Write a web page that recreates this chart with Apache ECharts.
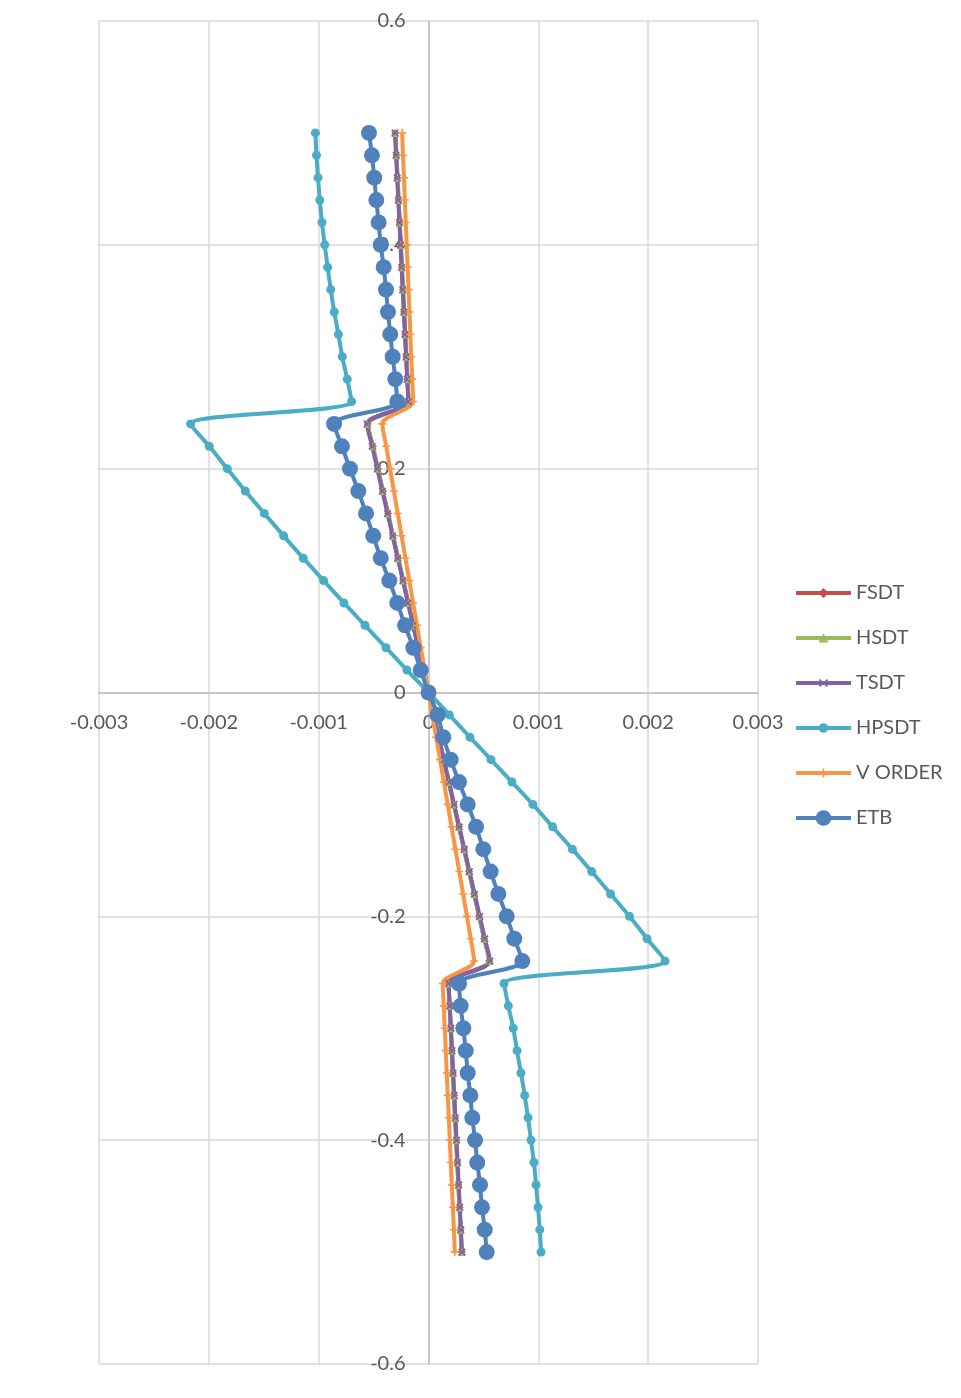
<!DOCTYPE html>
<html><head><meta charset="utf-8">
<script src="https://cdn.jsdelivr.net/npm/echarts@6/dist/echarts.min.js"></script>
<style>html,body{margin:0;padding:0;background:#fff}#c{width:961px;height:1398px}</style>
</head><body><div id="c"></div><script>
const z = [0.5,0.48,0.46,0.44,0.42,0.4,0.38,0.36,0.34,0.32,0.3,0.28,0.26,
  0.24,0.22,0.2,0.18,0.16,0.14,0.12,0.1,0.08,0.06,0.04,0.02,0,
  -0.02,-0.04,-0.06,-0.08,-0.1,-0.12,-0.14,-0.16,-0.18,-0.2,-0.22,-0.24,
  -0.26,-0.28,-0.3,-0.32,-0.34,-0.36,-0.38,-0.4,-0.42,-0.44,-0.46,-0.48,-0.5];

const fsdt = [-0.000302,-0.000292,-0.000282,-0.000272,-0.000262,-0.000252,-0.000242,-0.000232,-0.000222,-0.000212,-0.000202,-0.000192,-0.000182,
  -0.000553,-0.000507,-0.000461,-0.000415,-0.000369,-0.000323,-0.000277,-0.000230,-0.000184,-0.000138,-0.000092,-0.000046,0,
  0.000046,0.000092,0.000138,0.000184,0.000230,0.000277,0.000323,0.000369,0.000415,0.000461,0.000507,0.000553,
  0.000182,0.000192,0.000202,0.000212,0.000222,0.000232,0.000242,0.000252,0.000262,0.000272,0.000282,0.000292,0.000302];

const hsdt = [-0.000302,-0.000292,-0.000282,-0.000272,-0.000262,-0.000252,-0.000242,-0.000232,-0.000222,-0.000212,-0.000202,-0.000192,-0.000182,
  -0.000553,-0.000507,-0.000461,-0.000415,-0.000369,-0.000323,-0.000277,-0.000230,-0.000184,-0.000138,-0.000092,-0.000046,0,
  0.000046,0.000092,0.000138,0.000184,0.000230,0.000277,0.000323,0.000369,0.000415,0.000461,0.000507,0.000553,
  0.000182,0.000192,0.000202,0.000212,0.000222,0.000232,0.000242,0.000252,0.000262,0.000272,0.000282,0.000292,0.000302];

const tsdt = [-0.000305,-0.000295,-0.000285,-0.000275,-0.000265,-0.000255,-0.000245,-0.000235,-0.000224,-0.000214,-0.000204,-0.000194,-0.000184,
  -0.000560,-0.000513,-0.000467,-0.000420,-0.000373,-0.000327,-0.000280,-0.000233,-0.000187,-0.000140,-0.000093,-0.000047,0,
  0.000047,0.000093,0.000140,0.000187,0.000233,0.000280,0.000327,0.000373,0.000420,0.000467,0.000513,0.000560,
  0.000184,0.000194,0.000204,0.000214,0.000224,0.000235,0.000245,0.000255,0.000265,0.000275,0.000285,0.000295,0.000305];

const hpsdt = [-0.001030,-0.001020,-0.001006,-0.000990,-0.000970,-0.000945,-0.000918,-0.000890,-0.000858,-0.000820,-0.000785,-0.000740,-0.000700,
  -0.002166,-0.001996,-0.001832,-0.001668,-0.001495,-0.001319,-0.001140,-0.000955,-0.000770,-0.000578,-0.000387,-0.000196,0,
  0.000190,0.000378,0.000569,0.000760,0.000950,0.001130,0.001310,0.001486,0.001658,0.001830,0.001990,0.002154,
  0.000688,0.000727,0.000772,0.000806,0.000842,0.000876,0.000906,0.000933,0.000960,0.000979,0.000997,0.001013,0.001025];

const vorder = [-0.000240,-0.000232,-0.000223,-0.000215,-0.000207,-0.000198,-0.000190,-0.000182,-0.000173,-0.000165,-0.000157,-0.000148,-0.000140,
  -0.000420,-0.000385,-0.000350,-0.000315,-0.000280,-0.000245,-0.000210,-0.000175,-0.000140,-0.000105,-0.000070,-0.000035,0,
  0.000035,0.000070,0.000105,0.000140,0.000175,0.000210,0.000245,0.000280,0.000315,0.000350,0.000385,0.000415,
  0.000130,0.000139,0.000148,0.000157,0.000166,0.000175,0.000185,0.000194,0.000203,0.000212,0.000222,0.000231,0.000240];

const etb = [-0.000542,-0.000515,-0.000494,-0.000475,-0.000454,-0.000435,-0.000408,-0.000387,-0.000369,-0.000348,-0.000326,-0.000302,-0.000284,
  -0.000860,-0.000788,-0.000715,-0.000639,-0.000569,-0.000503,-0.000435,-0.000357,-0.000284,-0.000214,-0.000138,-0.000071,0,
  0.000084,0.000135,0.000202,0.000278,0.000357,0.000433,0.000499,0.000566,0.000636,0.000712,0.000781,0.000854,
  0.000278,0.000293,0.000317,0.000339,0.000357,0.000381,0.000399,0.000424,0.000444,0.000469,0.000487,0.000512,0.000530];

const xTickLabels = ['-0.003','-0.002','-0.001','0','0.001','0.002','0.003'];
const yTickLabels = ['-0.6','-0.4','-0.2','0','0.2','0.4','0.6'];
const seriesNames = ['FSDT','HSDT','TSDT','HPSDT','V ORDER','ETB'];

const FONT = 'Lato';
const GRID = { left: 99, right: 203, top: 21, bottom: 34 };
const W = 961, H = 1398;
const plotW = W - GRID.left - GRID.right, plotH = H - GRID.top - GRID.bottom;
// axes cross at zero: shift the axes from the grid edges to the zero lines
const xOffset = -plotH * (0 - (-0.6)) / 1.2;
const yOffset = -plotW * (0 - (-0.003)) / 0.006;

const plusPath = 'path://M4,0h2v4h4v2h-4v4h-2v-4h-4v-2h4z';

// legend icons (55 x 20 box): line bar + marker
const LW = 55, LH = 20;
const bar = 'M0,0M55,20M0,8H55V12H0Z';
function circ(r) { return 'M' + (27.5 - r) + ',10a' + r + ',' + r + ' 0 1,1 ' + (2 * r) + ',0a' + r + ',' + r + ' 0 1,1 ' + (-2 * r) + ',0Z'; }
const legendIcons = {
  'FSDT': 'path://' + bar + 'M27.5,5L32.5,10L27.5,15L22.5,10Z',
  'HSDT': 'path://' + bar + 'M27.5,5.5L32.5,14.5L22.5,14.5Z',
  'TSDT': 'path://' + bar + 'M24,6L27.5,9.2L31,6L32.2,7.2L28.8,10L32.2,12.8L31,14L27.5,10.8L24,14L22.8,12.8L26.2,10L22.8,7.2Z',
  'HPSDT': 'path://' + bar + circ(4.8),
  'V ORDER': 'path://' + bar + 'M26.7,5.5H28.3V14.5H26.7Z',
  'ETB': 'path://' + bar + circ(7.8)
};

function mk(name, arr, color, symbol, size, rotate) {
  return {
    name: name, type: 'line',
    data: z.map((zz, i) => [arr[i], zz]),
    smooth: 0.3,
    symbol: symbol, symbolSize: size, symbolRotate: rotate || 0,
    showSymbol: true,
    lineStyle: { color: color, width: 4 },
    itemStyle: { color: color, borderWidth: 0 },
    emphasis: { disabled: true },
    z: 2
  };
}

const chart = echarts.init(document.getElementById('c'), null, { renderer: 'canvas' });
chart.setOption({
  animation: false,
  backgroundColor: '#fff',
  grid: { left: GRID.left, right: GRID.right, top: GRID.top, bottom: GRID.bottom, containLabel: false, outerBoundsMode: 'none' },
  legend: {
    orient: 'vertical', left: 791, top: 578, padding: 5,
    itemWidth: LW, itemHeight: LH, itemGap: 25,
    data: seriesNames.map(n => ({ name: n, icon: legendIcons[n] })),
    textStyle: { fontSize: 20, color: '#595959', fontFamily: FONT }
  },
  xAxis: {
    type: 'value', min: -0.003, max: 0.003, interval: 0.001,
    position: 'bottom', offset: xOffset,
    axisLine: { onZero: false, lineStyle: { color: '#BFBFBF', width: 1.5 } },
    axisTick: { show: false },
    axisLabel: { color: '#595959', fontSize: 20, fontFamily: FONT, margin: 20,
      formatter: (v, i) => xTickLabels[i] },
    splitLine: { show: true, lineStyle: { color: '#D9D9D9', width: 1.5 } }
  },
  yAxis: {
    type: 'value', min: -0.6, max: 0.6, interval: 0.2,
    position: 'left', offset: yOffset,
    axisLine: { onZero: false, lineStyle: { color: '#BFBFBF', width: 1.5 } },
    axisTick: { show: false },
    axisLabel: { color: '#595959', fontSize: 20, fontFamily: FONT, margin: 23,
      formatter: (v, i) => yTickLabels[i] },
    splitLine: { show: true, lineStyle: { color: '#D9D9D9', width: 1.5 } }
  },
  series: [
    mk('FSDT', fsdt, '#C0504D', 'diamond', 8),
    mk('HSDT', hsdt, '#9BBB59', 'triangle', 8),
    mk('TSDT', tsdt, '#8064A2', plusPath, 9, 45),
    mk('HPSDT', hpsdt, '#4BACC6', 'circle', 9),
    mk('V ORDER', vorder, '#F79646', plusPath, 8),
    mk('ETB', etb, '#4F81BD', 'circle', 16)
  ]
});
</script></body></html>
